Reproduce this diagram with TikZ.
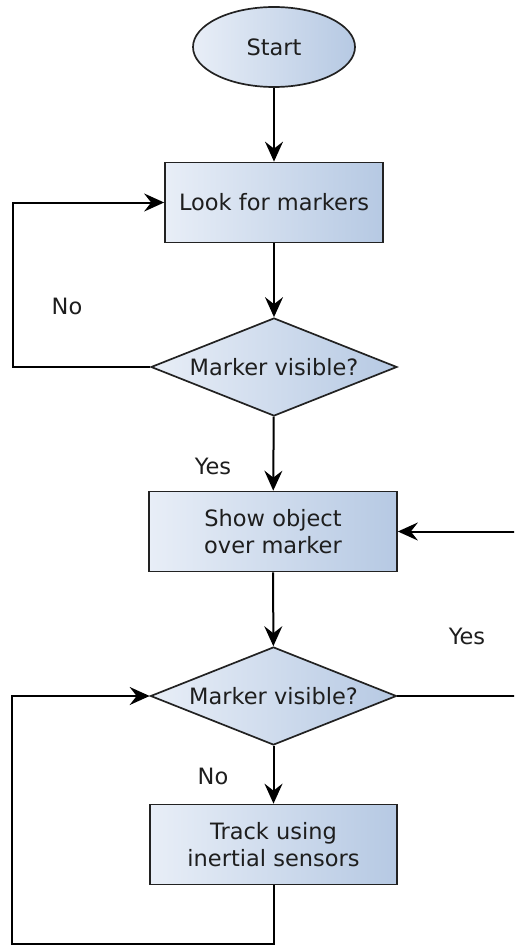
\documentclass[tikz,border=0pt]{standalone}
\usepackage{fontspec}
\setmainfont{DejaVu Sans}
\usetikzlibrary{shapes.geometric,arrows.meta}
\definecolor{txt}{HTML}{1E1E1E}
\definecolor{edge}{HTML}{222222}
\definecolor{fillL}{HTML}{E8EEF7}
\definecolor{fillR}{HTML}{B6C9E3}
\tikzset{
  base/.style={draw=edge, line width=1.7pt, left color=fillL, right color=fillR,
    text=txt, font=\fontsize{22.5}{27}\selectfont, align=center, inner sep=0pt},
  procbox/.style={base, rectangle, minimum width=#1, minimum height=80pt},
  startnode/.style={base, ellipse, minimum width=162pt, minimum height=80pt},
  decision/.style={base, diamond, minimum width=246pt, minimum height=98pt, shape aspect=2.5},
  conn/.style={draw=black, line width=2pt},
  arr/.style={conn, -{Stealth[length=20pt, width=18pt, inset=7pt]}},
  lbl/.style={text=txt, font=\fontsize{22.5}{27}\selectfont, inner sep=0pt}
}
\begin{document}
\begin{tikzpicture}[x=1pt,y=1pt]
\useasboundingbox (0,0) rectangle (514,-947);
\clip (0,0) rectangle (514,-947);
\node[startnode] (start) at (274,-47) {Start};
\node[procbox=218pt] (look) at (274,-202.5) {Look for markers};
\node[decision] (d1) at (274,-367) {Marker visible?};
\node[procbox=248pt] (show) at (273,-531.5) {Show object\\over marker};
\node[decision] (d2) at (273.5,-696) {Marker visible?};
\node[procbox=247pt] (track) at (273.5,-844.5) {Track using\\inertial sensors};
\coordinate (c1) at (13,-367);
\coordinate (c2) at (13,-202.5);
\coordinate (c3) at (516,-696);
\coordinate (c4) at (516,-531.5);
\coordinate (c5) at (273.5,-944);
\coordinate (c6) at (12,-944);
\coordinate (c7) at (12,-696);
\draw[arr] (start) -- (look);
\draw[arr] (look) -- (d1);
\draw[arr] (d1.west) -- (c1) -- (c2) -- (look.west);
\draw[arr] (d1) -- (show);
\draw[arr] (show) -- (d2);
\draw[arr] (d2.east) -- (c3) -- (c4) -- (show.east);
\draw[arr] (d2) -- (track);
\draw[arr] (track.south) -- (c5) -- (c6) -- (c7) -- (d2.west);
\node[lbl] (no1) at (67,-306) {No};
\node[lbl] (yes1) at (213,-466) {Yes};
\node[lbl] (yes2) at (467,-636) {Yes};
\node[lbl] (no2) at (213,-776) {No};
\end{tikzpicture}
\end{document}
